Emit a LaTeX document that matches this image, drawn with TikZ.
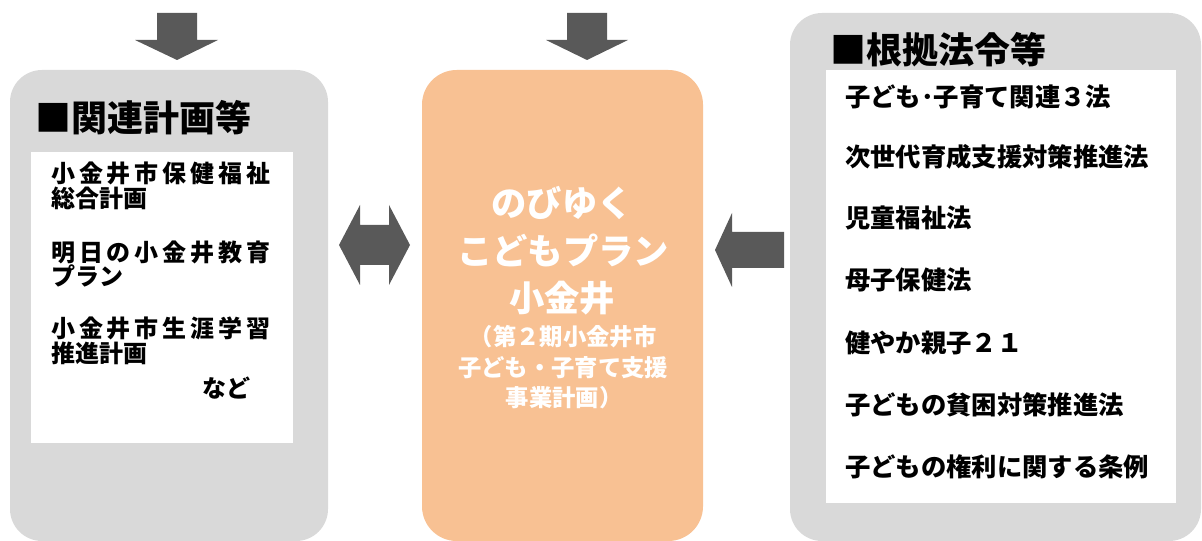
\documentclass[tikz,border=0pt]{standalone}
\usepackage{fontspec}
\setmainfont{Noto Sans CJK JP}
\definecolor{boxgray}{HTML}{D9D9D9}
\definecolor{arrowgray}{HTML}{595959}
\definecolor{planorange}{HTML}{F8C193}
\newcommand{\spaced}[1]{{\addfontfeature{LetterSpace=16}#1}}
\begin{document}
\begin{tikzpicture}[x=0.75pt, y=-0.75pt,
    every node/.style={inner sep=0pt},
    boxtitle/.style={anchor=west, font=\fontsize{27}{30}\selectfont\bfseries},
    planitem/.style={anchor=west, font=\fontsize{18}{19}\selectfont\bfseries},
    lawitem/.style={anchor=west, font=\fontsize{19}{20}\selectfont\bfseries},
    bigline/.style={text=white, font=\fontsize{26.5}{28}\selectfont\bfseries},
    smallline/.style={text=white, font=\fontsize{17.5}{19}\selectfont\bfseries},
    blockarrow/.style={fill=arrowgray}]
\useasboundingbox (0,0) rectangle (1202,541);

% 左:関連計画等
\fill[boxgray, rounded corners=24pt] (10,70) rectangle (328,541);
\fill[white] (31,152) rectangle (293,443);
\node[boxtitle] (plantitle) at (35,118) {■関連計画等};
\node[planitem] (plan1a) at (51,173) {\spaced{小金井市保健福祉}};
\node[planitem] (plan1b) at (51,198) {総合計画};
\node[planitem] (plan2a) at (51,252) {\spaced{明日の小金井教育}};
\node[planitem] (plan2b) at (51,276) {プラン};
\node[planitem] (plan3a) at (51,328) {\spaced{小金井市生涯学習}};
\node[planitem] (plan3b) at (51,353) {推進計画};
\node[planitem] (plan4) at (202,388) {など};

% 中:のびゆくこどもプラン小金井
\fill[planorange, rounded corners=26pt] (422,70) rectangle (703,541);
\node[bigline] (name1) at (562,203) {のびゆく};
\node[bigline] (name2) at (563,250) {こどもプラン};
\node[bigline] (name3) at (562,298) {小金井};
\node[smallline] (sub1) at (563,337) {（第２期小金井市};
\node[smallline] (sub2) at (563,368) {子ども・子育て支援};
\node[smallline] (sub3) at (564,398) {事業計画）};

% 右:根拠法令等
\fill[boxgray, rounded corners=24pt] (790,13) rectangle (1201,541);
\fill[white] (826,70) rectangle (1176,503);
\node[boxtitle] (lawtitle) at (830,50) {■根拠法令等};
\node[lawitem] (law1) at (845,97) {子ども･子育て関連３法};
\node[lawitem] (law2) at (845,157) {次世代育成支援対策推進法};
\node[lawitem] (law3) at (845,218) {児童福祉法};
\node[lawitem] (law4) at (845,280) {母子保健法};
\node[lawitem] (law5) at (845,343) {健やか親子２１};
\node[lawitem] (law6) at (845,405) {子どもの貧困対策推進法};
\node[lawitem] (law7) at (845,467) {子どもの権利に関する条例};

% 矢印
\fill[blockarrow] (157,13) -- (197,13) -- (197,40) -- (218,40) -- (177,60) -- (135,40) -- (157,40) -- cycle;
\fill[blockarrow] (567,13) -- (607,13) -- (607,40) -- (628,40) -- (587,60) -- (546,40) -- (567,40) -- cycle;
\fill[blockarrow] (339,245) -- (360,205) -- (360,225) -- (389,225) -- (389,205) -- (410,245)
    -- (389,285) -- (389,265) -- (360,265) -- (360,285) -- cycle;
\fill[blockarrow] (715,250) -- (732,213) -- (732,232) -- (784,232) -- (784,268) -- (732,268) -- (732,287) -- cycle;

\end{tikzpicture}
\end{document}
